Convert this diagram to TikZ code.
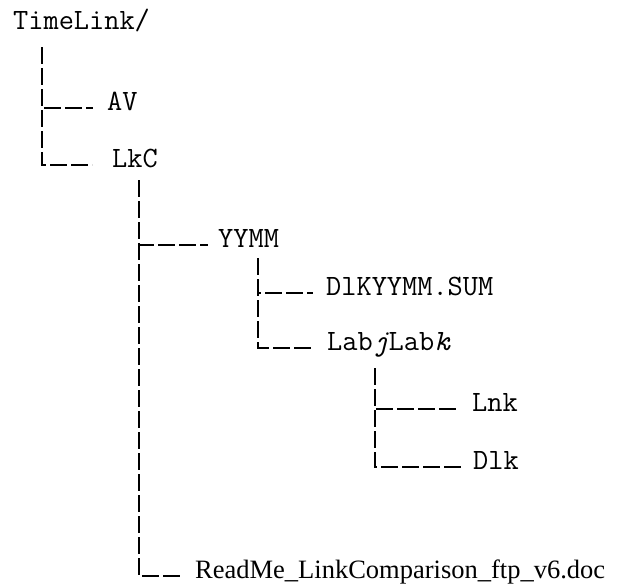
\documentclass[tikz,border=0pt]{standalone}
\usepackage{fontspec}
\setmainfont{Liberation Serif}
\usetikzlibrary{positioning}

\tikzset{
  dir/.style={anchor=base west, inner sep=0pt, text height=4pt, text depth=0pt,
    font=\ttfamily\fontsize{29.5}{32}\selectfont},
  doc/.style={dir, font=\rmfamily\fontsize{26.5}{30}\selectfont},
  tline/.style={line width=1.5pt, dash pattern=on 17pt off 4pt, shorten >=14pt},
}

\begin{document}
\begin{tikzpicture}[x=1pt,y=-1pt]
  \useasboundingbox (0,0) rectangle (623,587);

  % folders and files
  \node[dir] (root) at (13,29) {TimeLink/};
  \node[dir] (av) at (107,110) {AV};
  \node[dir] (lkc) at (112,167) {LkC};
  \node[dir] (yymm) at (218,247) {YYMM};
  \node[dir] (sum) at (326,295) {DlKYYMM.SUM};
  \node[dir] (labs) at (327,350) {Lab\textit{j}Lab\textit{k}};
  \node[dir] (lnk) at (472,411) {Lnk};
  \node[dir] (dlk) at (473,469) {Dlk};
  \node[doc] (readme) at (195,578) {ReadMe\_LinkComparison\_ftp\_v6.doc};

  % where each branch line starts
  \coordinate (root-stem) at (42,47);
  \coordinate (lkc-stem) at (139,180);
  \coordinate (yymm-stem) at (258,258);
  \coordinate (labs-stem) at (375,368);

  % TimeLink/
  \draw[tline] (root-stem) |- (av);
  \draw[tline, shorten >=20pt] (root-stem) |- (lkc);

  % LkC
  \draw[tline, shorten >=10pt] (lkc-stem) |- (yymm);
  \draw[tline] (lkc-stem) |- (readme);

  % YYMM
  \draw[tline, shorten >=13pt] (yymm-stem) |- (sum);
  \draw[tline] (yymm-stem) |- (labs);

  % LabjLabk
  \draw[tline] (labs-stem) |- (lnk);
  \draw[tline, shorten >=12pt] (labs-stem) |- (dlk);
\end{tikzpicture}
\end{document}
